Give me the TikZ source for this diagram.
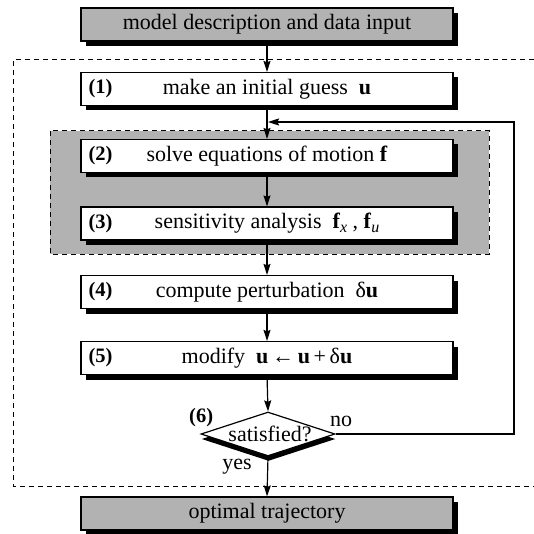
\documentclass[tikz,border=0pt]{standalone}
\usepackage{fontspec}
\setmainfont{Liberation Serif}
\usetikzlibrary{shapes.geometric,shadows,arrows.meta}
\definecolor{boxgray}{gray}{0.70}
% lowered italic subscript set as text
\newcommand{\lowsub}[1]{\raisebox{-0.4ex}{\fontsize{16}{18}\selectfont\itshape #1}}
\begin{document}
\begin{tikzpicture}[x=1pt,y=-1pt,
  txt/.style={font=\fontsize{22}{26}\selectfont},
  shade/.style={drop shadow={shadow xshift=5pt,shadow yshift=-5pt,fill=black,opacity=1}},
  stepbox/.style={txt,draw,line width=1.2pt,fill=white,minimum width=372pt,
    minimum height=33pt,inner sep=0pt,shade},
  iobox/.style={stepbox,fill=boxgray},
  decision/.style={diamond,draw,line width=1.2pt,fill=white,minimum width=134pt,
    minimum height=44pt,inner sep=0pt,
    drop shadow={shadow xshift=0.5pt,shadow yshift=-5pt,fill=black,opacity=1}},
  num/.style={anchor=west,inner sep=0pt,font=\fontsize{20.5}{24}\selectfont\bfseries},
  lbl/.style={txt,inner sep=0pt},
  flow/.style={line width=1.2pt,-{Stealth[length=11pt,width=7pt,inset=1.5pt]}},
  frame/.style={line width=1pt,dash pattern=on 5pt off 4pt},
]
\useasboundingbox (0,0) rectangle (534,534);

% outer iteration frame (open on the right)
\draw[frame] (534,60) -- (13,60) -- (13,486) -- (534,486);

% shaded region around steps (2) and (3)
\draw[frame,fill=boxgray] (50,131) rectangle (489,254);

% boxes
\node[iobox] (input) at (267,24.5) {model description and data input};
\node[stepbox] (s1) at (267,89) {make an initial guess\ \ \textbf{u}};
\node[stepbox] (s2) at (267,156) {solve equations of motion\ \textbf{f}};
\node[stepbox] (s3) at (267,223.5) {sensitivity analysis\ \ \textbf{f}\lowsub{x}\ ,\ \textbf{f}\lowsub{u}};
\node[stepbox] (s4) at (267,292) {compute perturbation\ \ δ\textbf{u}};
\node[stepbox] (s5) at (267,358) {modify\ \ \textbf{u}\,←\,\textbf{u}\,+\,δ\textbf{u}};
\node[decision] (s6) at (268,434) {};
\node[lbl,anchor=base] (s6txt) at (270,441) {satisfied?};
\node[iobox] (output) at (267,513.5) {optimal trajectory};

% step numbers
\node[num] (n1) at ([xshift=8pt]s1.west) {(1)};
\node[num] (n2) at ([xshift=8pt]s2.west) {(2)};
\node[num] (n3) at ([xshift=8pt]s3.west) {(3)};
\node[num] (n4) at ([xshift=8pt]s4.west) {(4)};
\node[num] (n5) at ([xshift=8pt]s5.west) {(5)};
\node[num] (n6) at (189,418) {(6)};

% decision labels
\node[lbl] (no) at (341,421) {no};
\node[lbl] (yes) at (237,467) {yes};

% flow
\draw[flow] (input.south) -- (s1.north);
\draw[flow] (s1.south) -- (s2.north);
\draw[flow] (s2.south) -- (s3.north);
\draw[flow] (s3.south) -- (s4.north);
\draw[flow] (s4.south) -- (s5.north);
\draw[flow] (s5.south) -- (s6.north);
\draw[flow] (s6.south) -- (output.north);

% loop back
\coordinate (back) at (268,122);
\draw[flow] (s6.east) -- (514,434) -- (514,122) -- (back);
\end{tikzpicture}
\end{document}
